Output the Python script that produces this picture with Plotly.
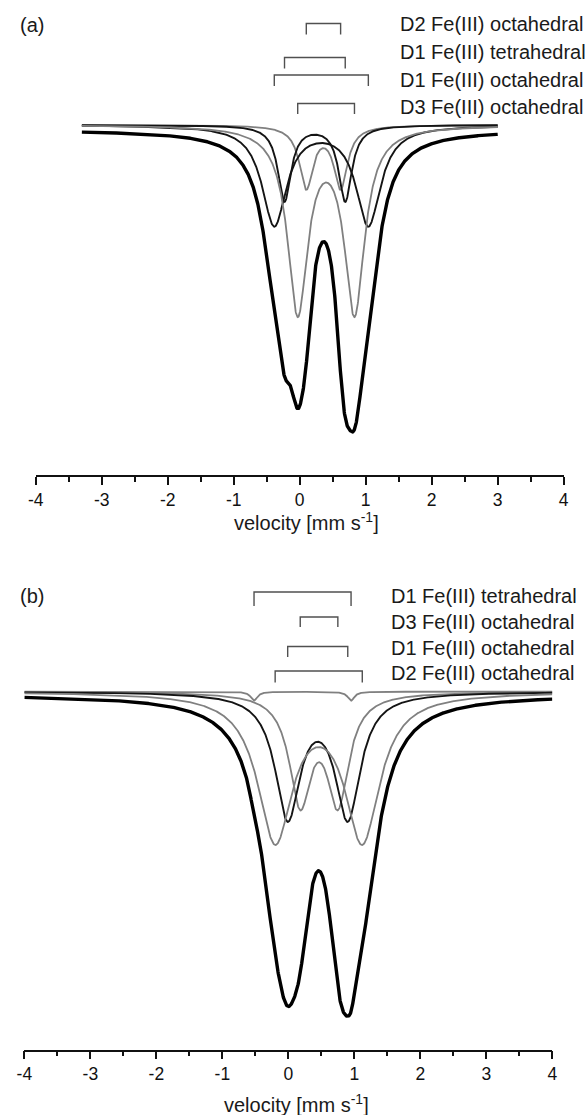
import numpy as np
import plotly.graph_objects as go

# Mössbauer spectra, two samples. Each subspectrum is a Lorentzian doublet
# given by its two line positions (mm/s), line width (FWHM, mm/s) and line depth (%).

# ---- sample (a) ----
names_a = ["D2 Fe(III) octahedral", "D1 Fe(III) tetrahedral",
           "D1 Fe(III) octahedral", "D3 Fe(III) octahedral"]
line1_a = [0.10, -0.23, -0.385, -0.03]
line2_a = [0.62, 0.69, 1.04, 0.83]
fwhm_a = [0.25, 0.24, 0.45, 0.37]
depth_a = [0.616, 0.757, 0.993, 1.84]
shade_a = ["grey", "black", "black", "grey"]
vel_span_a = [-3.3, 3.0]
spec_offset_a = 0.05

# ---- sample (b) ----
names_b = ["D1 Fe(III) tetrahedral", "D3 Fe(III) octahedral",
           "D1 Fe(III) octahedral", "D2 Fe(III) octahedral"]
line1_b = [-0.52, 0.18, -0.01, -0.20]
line2_b = [0.95, 0.75, 0.90, 1.12]
fwhm_b = [0.12, 0.40, 0.46, 0.64]
depth_b = [0.09, 1.069, 1.228, 1.452]
shade_b = ["grey", "grey", "black", "grey"]
vel_span_b = [-4.0, 4.0]
spec_offset_b = 0.03

tick_vals = [-4, -3, -2, -1, 0, 1, 2, 3, 4]
tick_text = ["-4", "-3", "-2", "-1", "0", "1", "2", "3", "4"]

W, H = 587, 1115
FONT = "Liberation Sans, Arial, Helvetica, sans-serif"
COLORS = {"grey": "#808080", "black": "#141414"}
WIDTHS = {"grey": 1.8, "black": 1.9}
PX = 0.01  # transmission units per pixel


def px_x(p):
    return p / W


def px_y(p):
    return 1 - p / H


def lorentz(v, c, w):
    return 1.0 / (1.0 + ((v - c) / (w / 2.0)) ** 2)


def doublet(v, c1, c2, w, d):
    return d * (lorentz(v, c1, w) + lorentz(v, c2, w))


fig = go.Figure()

panels = [
    dict(xa="x", ya="y", l1=line1_a, l2=line2_a, fw=fwhm_a, dp=depth_a,
         sh=shade_a, span=vel_span_a, off=spec_offset_a),
    dict(xa="x2", ya="y2", l1=line1_b, l2=line2_b, fw=fwhm_b, dp=depth_b,
         sh=shade_b, span=vel_span_b, off=spec_offset_b),
]

for p in panels:
    v = np.linspace(p["span"][0], p["span"][1], 1600)
    parts = [doublet(v, a, b, w, d) for a, b, w, d in zip(p["l1"], p["l2"], p["fw"], p["dp"])]
    total = 100.0 - p["off"] - np.sum(parts, axis=0)
    fig.add_trace(go.Scatter(x=v, y=total, mode="lines", xaxis=p["xa"], yaxis=p["ya"],
                             line=dict(color="#000000", width=3.4), showlegend=False,
                             hoverinfo="skip"))
    for part, s in zip(parts, p["sh"]):
        fig.add_trace(go.Scatter(x=v, y=100.0 - part, mode="lines", xaxis=p["xa"], yaxis=p["ya"],
                                 line=dict(color=COLORS[s], width=WIDTHS[s]), showlegend=False,
                                 hoverinfo="skip"))

# bracket levels (pixel rows: top, bottom) and label rows for each panel
bracket_rows_a = [(23.5, 34.5), (57.5, 68.5), (75.0, 86.0), (103.5, 114.0)]
label_rows_a = [24, 52, 80, 107]
bracket_rows_b = [(592, 606), (617, 627), (646.5, 657), (671, 682.5)]
label_rows_b = [596, 622, 647.5, 673]

shapes = []
annotations = []


def add_brackets(xref, l1, l2, rows):
    for a, b, (top, bot) in zip(l1, l2, rows):
        shapes.append(dict(type="path", xref=xref, yref="paper",
                           path=f"M {a},{px_y(bot)} L {a},{px_y(top)} L {b},{px_y(top)} L {b},{px_y(bot)}",
                           line=dict(color="#505050", width=1.4)))


def add_labels(x_px, names, rows):
    for n, r in zip(names, rows):
        annotations.append(dict(text=n, xref="paper", yref="paper", x=px_x(x_px), y=px_y(r),
                                xanchor="left", yanchor="middle", showarrow=False,
                                font=dict(family=FONT, size=20, color="#1a1a1a")))


add_brackets("x", line1_a, line2_a, bracket_rows_a)
add_brackets("x2", line1_b, line2_b, bracket_rows_b)
add_labels(399, names_a, label_rows_a)
add_labels(390, names_b, label_rows_b)

for txt, row in [("(a)", 25), ("(b)", 596)]:
    annotations.append(dict(text=txt, xref="paper", yref="paper", x=px_x(10), y=px_y(row),
                            xanchor="left", yanchor="middle", showarrow=False,
                            font=dict(family=FONT, size=20, color="#1a1a1a")))

for cx, row in [(305, 521), (295, 1103)]:
    annotations.append(dict(text="velocity [mm s<sup>-1</sup>]", xref="paper", yref="paper",
                            x=px_x(cx), y=px_y(row), xanchor="center", yanchor="middle",
                            showarrow=False, font=dict(family=FONT, size=20, color="#1a1a1a")))

xcommon = dict(range=[-4, 4], tickmode="array", tickvals=tick_vals, ticktext=tick_text,
               showline=True, linecolor="#111111", linewidth=1.6, ticks="outside",
               ticklen=8, tickwidth=1.6, tickcolor="#111111", showgrid=False, zeroline=False,
               tickfont=dict(family=FONT, size=17.5, color="#111111"),
               minor=dict(dtick=0.5, tick0=-4, ticks="outside", ticklen=5, tickwidth=1.5,
                          tickcolor="#111111", showgrid=False))
ycommon = dict(visible=False, showgrid=False, zeroline=False, fixedrange=True)

# panel (a): baseline row 125, axis row 475; panel (b): baseline row 691.7, axis row 1049.5
ya_bot, ya_top = 475.0, 0.0
yb_bot, yb_top = 1049.5, 520.0
base_a, base_b = 125.0, 691.7

fig.update_layout(
    width=W, height=H, margin=dict(l=0, r=0, t=0, b=0),
    paper_bgcolor="white", plot_bgcolor="white", showlegend=False,
    xaxis=dict(domain=[px_x(28.3), px_x(568.3)], anchor="y", **xcommon),
    yaxis=dict(domain=[px_y(ya_bot), px_y(ya_top)],
               range=[100 - (ya_bot - base_a) * PX, 100 + (base_a - ya_top) * PX], **ycommon),
    xaxis2=dict(domain=[px_x(16.7), px_x(556.7)], anchor="y2", **xcommon),
    yaxis2=dict(domain=[px_y(yb_bot), px_y(yb_top)],
                range=[100 - (yb_bot - base_b) * PX, 100 + (base_b - yb_top) * PX], **ycommon),
    shapes=shapes, annotations=annotations,
)

fig.write_html("out.html")
